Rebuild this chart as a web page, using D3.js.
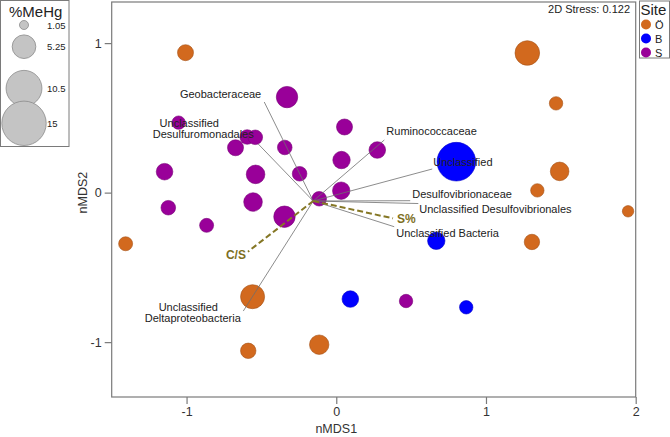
<!DOCTYPE html>
<html><head><meta charset="utf-8">
<script src="https://cdn.jsdelivr.net/npm/d3@7"></script>
<style>
html,body{margin:0;padding:0;background:#fff;}
svg{display:block;font-family:"Liberation Sans",Arial,sans-serif;}
</style></head>
<body><svg id="c" width="670" height="437"></svg>
<script>
// ---- data ----
const siteNames = ["Ö", "B", "S"];
const siteColors = ["#D2691E", "#0000FF", "#990099"];

const oX = [-1.007, 1.276, 1.468, 1.492, 1.343, 1.949, 1.307, -1.407, -0.559, -0.588, -0.114];
const oY = [0.936, 0.934, 0.597, 0.142, 0.015, -0.125, -0.330, -0.342, -0.696, -1.058, -1.017];
const oMeHg = [2.74, 5.61, 2.04, 3.52, 2.04, 1.56, 2.57, 2.19, 5.39, 2.57, 3.78];

const bX = [0.802, 0.668, 0.094, 0.868];
const bY = [0.207, -0.322, -0.712, -0.767];
const bMeHg = [11.9, 3.15, 2.91, 2.04];

const sX = [-0.329, -1.053, -0.595, -0.541, -0.673, -0.344, -1.147, -0.539, -0.245, -1.122, -0.556, -0.346, -0.866, 0.055, 0.274, 0.035, 0.033, -0.114, 0.466];
const sY = [0.639, 0.468, 0.372, 0.370, 0.300, 0.302, 0.140, 0.122, 0.126, -0.101, -0.063, -0.161, -0.219, 0.439, 0.285, 0.218, 0.013, -0.041, -0.725];
const sMeHg = [4.45, 2.04, 2.35, 2.35, 2.74, 2.35, 2.91, 3.52, 2.35, 2.35, 3.52, 4.45, 2.19, 2.74, 2.91, 3.15, 3.15, 2.35, 2.04];

const vecOrigin = [-0.154, -0.056];
const taxaNames = ["Geobacteraceae", "Unclassified\nDesulfuromonadales", "Ruminococcaceae", "Unclassified",
  "Desulfovibrionaceae", "Unclassified Desulfovibrionales", "Unclassified Bacteria", "Unclassified\nDeltaproteobacteria"];
const taxaX = [-0.481, -0.521, 0.321, 0.641, 0.494, 0.548, 0.387, -0.621];
const taxaY = [0.606, 0.325, 0.352, 0.158, -0.054, -0.073, -0.228, -0.792];

const envNames = ["S%", "C/S"];
const envX = [0.379, -0.590];
const envY = [-0.172, -0.395];

const xTicks = [-1, 0, 1, 2];
const yTicks = [-1, 0, 1];
const sizeLegendValues = [1.05, 5.25, 10.5, 15];
const stressText = "2D Stress: 0.122";

// ---- label layout (offsets from vector tips, px) ----
const taxaLabelLayout = [
  {anchor: "end", lines: [[-3, -4]]},
  {anchor: "middle", lines: [[-69, -17], [-55, -6]]},
  {anchor: "start", lines: [[2, -5]]},
  {anchor: "start", lines: [[1, -3.5]]},
  {anchor: "start", lines: [[2, -3]]},
  {anchor: "start", lines: [[1, 9.5]]},
  {anchor: "start", lines: [[2, 10]]},
  {anchor: "middle", lines: [[-55, 0], [-50.5, 11]]}
];
const envLabelLayout = [
  {anchor: "start", dx: 4, dy: 4.5},
  {anchor: "end", dx: -2, dy: 7}
];

// ---- chart ----
const svg = d3.select("#c");
const L = 111.7, R = 635.7, T = 2, B = 397;
const x = d3.scaleLinear().domain([-1.5, 2]).range([L, R]);
const y = d3.scaleLinear().domain([-1.367, 1.275]).range([B, T]);
const r = d3.scalePow().exponent(0.6).domain([0, 15]).range([0, 22.2]);

const axisColor = "#7a7a7a";

// frame
svg.append("rect").attr("x", L).attr("y", T).attr("width", R - L).attr("height", B - T)
  .attr("fill", "none").attr("stroke", axisColor).attr("stroke-width", 1.2);

// axes
const gx = svg.append("g").attr("transform", `translate(0,${B})`)
  .call(d3.axisBottom(x).tickValues(xTicks).tickSize(7).tickPadding(3).tickFormat(d3.format("d")));
const gy = svg.append("g").attr("transform", `translate(${L},0)`)
  .call(d3.axisLeft(y).tickValues(yTicks).tickSize(7).tickPadding(3).tickFormat(d3.format("d")));
[gx, gy].forEach(g => {
  g.select(".domain").remove();
  g.selectAll(".tick line").attr("stroke", axisColor).attr("stroke-width", 1.2);
  g.selectAll(".tick text").attr("fill", "#333").style("font-size", "12.5px")
    .style("font-family", "'Liberation Sans',Arial,sans-serif");
});
gy.selectAll(".tick text").text(d => d === -1 ? "-1" : d);
gx.selectAll(".tick text").text(d => d === -1 ? "-1" : d);

svg.append("text").attr("x", x(0)).attr("y", 433).attr("text-anchor", "middle")
  .attr("fill", "#333").style("font-size", "12.5px").text("nMDS1");
svg.append("text").attr("transform", `translate(87,${y(0)}) rotate(-90)`).attr("text-anchor", "middle")
  .attr("fill", "#333").style("font-size", "12.5px").text("nMDS2");

// points
const groups = [[oX, oY, oMeHg], [bX, bY, bMeHg], [sX, sY, sMeHg]];
const pts = [];
groups.forEach((g, gi) => g[0].forEach((v, i) => pts.push({x: v, y: g[1][i], m: g[2][i], s: gi})));
svg.append("g").selectAll("circle").data(pts).join("circle")
  .attr("cx", d => x(d.x)).attr("cy", d => y(d.y)).attr("r", d => r(d.m))
  .attr("fill", d => siteColors[d.s])
  .attr("stroke", d => d3.color(siteColors[d.s]).darker(0.7))
  .attr("stroke-width", 0.6);

// taxa vectors
const ox = x(vecOrigin[0]), oy = y(vecOrigin[1]);
const vg = svg.append("g");
taxaNames.forEach((n, i) => {
  vg.append("line").attr("x1", ox).attr("y1", oy).attr("x2", x(taxaX[i])).attr("y2", y(taxaY[i]))
    .attr("stroke", "#6e6e6e").attr("stroke-width", 0.8);
});
// env vectors
envNames.forEach((n, i) => {
  vg.append("line").attr("x1", ox).attr("y1", oy).attr("x2", x(envX[i])).attr("y2", y(envY[i]))
    .attr("stroke", "#857725").attr("stroke-width", 2).attr("stroke-dasharray", "6,3");
});
// taxa labels
taxaNames.forEach((n, i) => {
  const lay = taxaLabelLayout[i];
  n.split("\n").forEach((line, j) => {
    vg.append("text").attr("x", x(taxaX[i]) + lay.lines[j][0]).attr("y", y(taxaY[i]) + lay.lines[j][1])
      .attr("text-anchor", lay.anchor).attr("fill", "#222").style("font-size", "11px").text(line);
  });
});
envNames.forEach((n, i) => {
  const lay = envLabelLayout[i];
  vg.append("text").attr("x", x(envX[i]) + lay.dx).attr("y", y(envY[i]) + lay.dy)
    .attr("text-anchor", lay.anchor).attr("fill", "#7d6f1e").style("font-size", "12px")
    .style("font-weight", "bold").text(n);
});

// stress
svg.append("text").attr("x", 630).attr("y", 13).attr("text-anchor", "end").attr("fill", "#222")
  .style("font-size", "11px").text(stressText);

// site legend
const sl = svg.append("g");
sl.append("rect").attr("x", 639.5).attr("y", 1).attr("width", 30).attr("height", 57)
  .attr("fill", "#fff").attr("stroke", axisColor).attr("stroke-width", 1);
sl.append("text").attr("x", 640.5).attr("y", 15).attr("fill", "#222").style("font-size", "15px").text("Site");
siteNames.forEach((s, i) => {
  const cy = 24.5 + i * 14;
  sl.append("circle").attr("cx", 646).attr("cy", cy).attr("r", 5).attr("fill", siteColors[i]);
  sl.append("text").attr("x", 655).attr("y", cy + 4).attr("fill", "#222").style("font-size", "11px").text(s);
});

// size legend
const zl = svg.append("g");
zl.append("rect").attr("x", 0.5).attr("y", 0.5).attr("width", 68.5).attr("height", 146)
  .attr("fill", "#fff").attr("stroke", axisColor).attr("stroke-width", 1);
zl.append("text").attr("x", 9).attr("y", 17).attr("fill", "#222").style("font-size", "15px").text("%MeHg");
const sizeY = [25, 46.7, 88.3, 123.3];
sizeLegendValues.forEach((v, i) => {
  zl.append("circle").attr("cx", 24).attr("cy", sizeY[i]).attr("r", r(v))
    .attr("fill", "#c4c4c4").attr("stroke", "#8a8a8a").attr("stroke-width", 0.8);
  zl.append("text").attr("x", 47).attr("y", sizeY[i] + 3.5).attr("fill", "#222")
    .style("font-size", "9.5px").text(v);
});
</script></body></html>
